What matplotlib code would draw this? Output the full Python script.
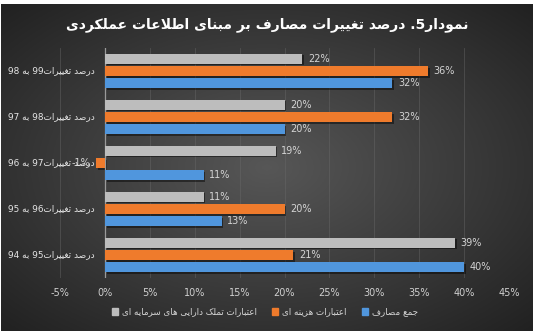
import re
import numpy as np
import matplotlib
matplotlib.use('Agg')
import matplotlib.pyplot as plt
from matplotlib.patches import Rectangle

plt.rcParams['font.family'] = ['DejaVu Sans']

# data (percent change)
categories = ['درصد تغییرات95 به 94', 'درصد تغییرات96 به 95', 'درصد تغییرات97 به 96',
              'درصد تغییرات98 به 97', 'درصد تغییرات99 به 98']
total_spend = [40, 13, 11, 20, 32]      # جمع مصارف
current_credit = [21, 20, -1, 32, 36]   # اعتبارات هزینه ای
capital_credit = [39, 11, 19, 20, 22]   # اعتبارات تملک دارایی های سرمایه ای
series_names = ['جمع مصارف', 'اعتبارات هزینه ای', 'اعتبارات تملک دارایی های سرمایه ای']
xticks = [-5, 0, 5, 10, 15, 20, 25, 30, 35, 40, 45]
title = 'نمودار5. درصد تغییرات مصارف بر مبنای اطلاعات عملکردی'

# --- minimal Persian shaping (matplotlib has no bidi / joining support) ---
FORMS = {
    'ا': ('\uFE8D', '\uFE8E', None, None),
    'ب': ('\uFE8F', '\uFE90', '\uFE91', '\uFE92'),
    'ت': ('\uFE95', '\uFE96', '\uFE97', '\uFE98'),
    'ج': ('\uFE9D', '\uFE9E', '\uFE9F', '\uFEA0'),
    'د': ('\uFEA9', '\uFEAA', None, None),
    'ر': ('\uFEAD', '\uFEAE', None, None),
    'ز': ('\uFEAF', '\uFEB0', None, None),
    'س': ('\uFEB1', '\uFEB2', '\uFEB3', '\uFEB4'),
    'ص': ('\uFEB9', '\uFEBA', '\uFEBB', '\uFEBC'),
    'ط': ('\uFEC1', '\uFEC2', '\uFEC3', '\uFEC4'),
    'ع': ('\uFEC9', '\uFECA', '\uFECB', '\uFECC'),
    'غ': ('\uFECD', '\uFECE', '\uFECF', '\uFED0'),
    'ف': ('\uFED1', '\uFED2', '\uFED3', '\uFED4'),
    'ل': ('\uFEDD', '\uFEDE', '\uFEDF', '\uFEE0'),
    'م': ('\uFEE1', '\uFEE2', '\uFEE3', '\uFEE4'),
    'ن': ('\uFEE5', '\uFEE6', '\uFEE7', '\uFEE8'),
    'ه': ('\uFEE9', '\uFEEA', '\uFEEB', '\uFEEC'),
    'و': ('\uFEED', '\uFEEE', None, None),
    'ک': ('\uFB8E', '\uFB8F', '\uFB90', '\uFB91'),
    'ی': ('\uFBFC', '\uFBFD', '\uFBFE', '\uFBFF'),
}


def joins_next(ch):
    return ch in FORMS and FORMS[ch][2] is not None


def fa(text):
    out = []
    i = 0
    n = len(text)
    while i < n:
        ch = text[i]
        if ch not in FORMS:
            out.append(ch)
            i += 1
            continue
        prev = text[i - 1] if i > 0 else ''
        conn_prev = joins_next(prev)
        # lam-alef ligature
        if ch == 'ل' and i + 1 < n and text[i + 1] == 'ا':
            out.append('\uFEFC' if conn_prev else '\uFEFB')
            i += 2
            continue
        nxt = text[i + 1] if i + 1 < n else ''
        conn_next = joins_next(ch) and nxt in FORMS
        iso, fin, ini, med = FORMS[ch]
        if conn_prev and conn_next:
            out.append(med)
        elif conn_prev:
            out.append(fin)
        elif conn_next:
            out.append(ini)
        else:
            out.append(iso)
        i += 1
    vis = ''.join(out)[::-1]
    return re.sub(r'\d+', lambda m: m.group()[::-1], vis)


W, H = 535, 333
fig = plt.figure(figsize=(W / 100, H / 100), dpi=100)
fig.patch.set_facecolor('white')

# dark radial background panel
bg = fig.add_axes([1 / W, 2 / H, 532 / W, 327 / H])
yy, xx = np.mgrid[-1:1:200j, -1:1:300j]
r = np.sqrt(xx ** 2 + yy ** 2) / np.sqrt(2)
shade = 0.34 - 0.21 * r
bg.imshow(np.dstack([shade, shade, shade]), aspect='auto', extent=[0, 1, 0, 1])
bg.set_axis_off()

ax = fig.add_axes([60 / W, 55 / H, 449 / W, 230 / H])
ax.set_facecolor('none')

y = np.arange(len(categories))
bh = 0.22
step = 0.265
colors = ['#5096dd', '#ef7b2c', '#bdbdbd']
series = [total_spend, current_credit, capital_credit]
offsets = [-step, 0, step]

for vals, off, col in zip(series, offsets, colors):
    # drop shadow under each bar
    ax.barh(y + off - 0.035, vals, height=bh, left=0.2, color='black', alpha=0.45, zorder=2)
    ax.barh(y + off, vals, height=bh, color=col, zorder=3)
    for yi, v in zip(y, vals):
        ha = 'left' if v >= 0 else 'right'
        dx = 4 if v >= 0 else -4
        ax.annotate(f'{v}%', (v, yi + off), xytext=(dx, 0), textcoords='offset points',
                    ha=ha, va='center', fontsize=7, color='#d4d4d4', zorder=4)

ax.set_xlim(-5, 45)
ax.set_ylim(-0.5, len(categories) - 0.5)
ax.set_xticks(xticks)
ax.set_xticklabels([f'{t}%' for t in xticks], fontsize=7, color='#d0d0d0')
ax.set_yticks([])
for t in xticks:
    ax.axvline(t, color='#6a6a6a', lw=0.6, alpha=0.5, zorder=1)
ax.axvline(0, color='#9a9a9a', lw=0.9, zorder=2)
for s in ax.spines.values():
    s.set_visible(False)
ax.tick_params(axis='x', length=0, pad=7)

for yi, c in zip(y, categories):
    ax.text(-1.1, yi, fa(c), ha='right', va='center', fontsize=6.4, color='#e6e6e6', zorder=5)

fig.text(0.5, 1 - 25 / H, fa(title), ha='center', va='center', fontsize=10,
         fontweight='bold', color='white')

# legend, left to right: gray, orange, blue
handles = [Rectangle((0, 0), 1, 1, color=c) for c in colors[::-1]]
labels = [fa(s) for s in series_names[::-1]]
leg = fig.legend(handles, labels, loc='center', bbox_to_anchor=(0.495, 1 - 312 / H), ncol=3,
                 frameon=False, fontsize=6.3, handlelength=0.7, handleheight=0.7,
                 handletextpad=0.4, columnspacing=1.8)
for t in leg.get_texts():
    t.set_color('#d6d6d6')

fig.savefig('out.png', dpi=100, facecolor=fig.get_facecolor())
